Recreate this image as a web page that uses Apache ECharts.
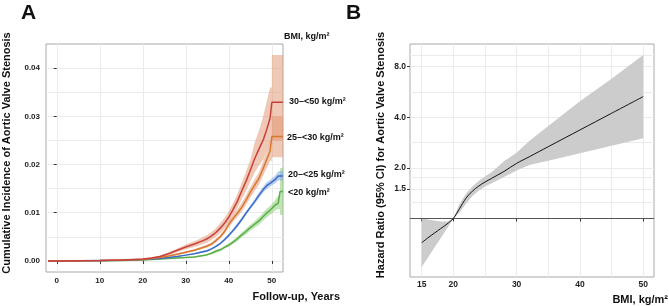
<!DOCTYPE html>
<html>
<head>
<meta charset="utf-8">
<script src="https://cdn.jsdelivr.net/npm/echarts@6/dist/echarts.min.js"></script>
<style>
html, body { margin: 0; background: #fff; }
#chart { width: 669px; height: 306px; }
</style>
</head>
<body>
<div id="chart"></div>
<script>
// panel A: cumulative incidence by BMI group (curves + 95% CI)
// repeated x (50, 51.9) = the visible jumps at the end of follow-up
const years = [-2, 0, 5, 10, 15, 20, 22, 24, 26, 28, 30, 32, 34, 35, 36, 37, 38, 39, 40, 41, 42, 43, 44, 45, 46, 47, 48, 48.8, 49.6, 50, 50, 50.8, 51.5, 51.9, 51.9, 52.6]

const red = [0, 0, 0.00005, 0.0001, 0.0002, 0.0004, 0.0006, 0.0009, 0.0015, 0.0022, 0.0029, 0.0035, 0.0042, 0.0046, 0.0052, 0.0059, 0.0068, 0.0078, 0.0091, 0.0107, 0.0124, 0.0145, 0.0165, 0.0188, 0.0212, 0.0232, 0.0251, 0.0272, 0.0296, 0.0298, 0.0329, 0.0329, 0.0329, 0.0329, 0.0329, 0.0329]
const redLo = [0, 0, 0.00003, 0.00007, 0.00015, 0.0003, 0.0005, 0.0007, 0.0012, 0.0018, 0.0024, 0.0029, 0.0035, 0.0038, 0.0044, 0.005, 0.0058, 0.0067, 0.008, 0.0094, 0.011, 0.0128, 0.0145, 0.0165, 0.0183, 0.0198, 0.021, 0.0228, 0.0245, 0.0245, 0.025, 0.025, 0.025, 0.025, 0.025, 0.025]
const redHi = [0, 0, 0.00007, 0.00013, 0.00025, 0.0005, 0.0007, 0.0011, 0.0018, 0.0026, 0.0034, 0.0041, 0.0049, 0.0054, 0.006, 0.0068, 0.0078, 0.0089, 0.0103, 0.012, 0.0139, 0.0162, 0.0185, 0.021, 0.0245, 0.027, 0.030, 0.033, 0.036, 0.036, 0.0427, 0.0427, 0.0427, 0.0427, 0.0427, 0.0427]

const orange = [0, 0, 0.00004, 0.0001, 0.0002, 0.0003, 0.0005, 0.0007, 0.001, 0.0014, 0.0018, 0.0022, 0.0028, 0.0031, 0.0035, 0.0042, 0.005, 0.0061, 0.0076, 0.0088, 0.0099, 0.0111, 0.0126, 0.0142, 0.0157, 0.0171, 0.0192, 0.021, 0.0228, 0.023, 0.0258, 0.0258, 0.0258, 0.0258, 0.0258, 0.0258]
const orangeLo = [0, 0, 0.00003, 0.00008, 0.00017, 0.00026, 0.00044, 0.00062, 0.0009, 0.0012, 0.0016, 0.002, 0.0025, 0.0028, 0.0032, 0.0038, 0.0046, 0.0056, 0.007, 0.0081, 0.0091, 0.0102, 0.0116, 0.0131, 0.0145, 0.0158, 0.0177, 0.0192, 0.0208, 0.0208, 0.0215, 0.0215, 0.0215, 0.0215, 0.0215, 0.0215]
const orangeHi = [0, 0, 0.00005, 0.00012, 0.00023, 0.00034, 0.00056, 0.00078, 0.0011, 0.0016, 0.002, 0.0024, 0.0031, 0.0034, 0.0038, 0.0046, 0.0054, 0.0066, 0.0082, 0.0095, 0.0107, 0.012, 0.0136, 0.0153, 0.0169, 0.0184, 0.0207, 0.0228, 0.0248, 0.0248, 0.030, 0.030, 0.030, 0.030, 0.030, 0.030]

const blue = [0, 0, 0.00003, 0.00008, 0.00015, 0.0003, 0.0004, 0.0005, 0.0007, 0.0009, 0.0012, 0.0015, 0.0019, 0.0021, 0.0025, 0.003, 0.0036, 0.0044, 0.0053, 0.0063, 0.0074, 0.0086, 0.0099, 0.0111, 0.0123, 0.0136, 0.0148, 0.0156, 0.0161, 0.0164, 0.0164, 0.0169, 0.0176, 0.0176, 0.0176, 0.0176]
const blueLo = [0, 0, 0.00002, 0.00006, 0.00012, 0.00025, 0.00034, 0.00043, 0.0006, 0.0008, 0.0011, 0.0014, 0.0017, 0.0019, 0.0023, 0.0028, 0.0034, 0.0041, 0.005, 0.006, 0.007, 0.0082, 0.0095, 0.0107, 0.0118, 0.013, 0.0142, 0.0149, 0.0154, 0.0157, 0.0157, 0.0161, 0.0167, 0.0167, 0.0167, 0.0167]
const blueHi = [0, 0, 0.00004, 0.0001, 0.00018, 0.00035, 0.00046, 0.00057, 0.0008, 0.001, 0.0013, 0.0016, 0.0021, 0.0023, 0.0027, 0.0032, 0.0038, 0.0047, 0.0056, 0.0066, 0.0078, 0.009, 0.0103, 0.0115, 0.0128, 0.0142, 0.0154, 0.0163, 0.0168, 0.0171, 0.0171, 0.0177, 0.0186, 0.0186, 0.0186, 0.0186]

const green = [0, 0, 0.00002, 0.00005, 0.0001, 0.0002, 0.0003, 0.0004, 0.0005, 0.0006, 0.0007, 0.0008, 0.0011, 0.0013, 0.0016, 0.002, 0.0023, 0.0028, 0.0033, 0.0039, 0.0046, 0.0054, 0.0061, 0.0069, 0.0076, 0.0083, 0.0092, 0.0099, 0.0105, 0.0108, 0.0108, 0.0116, 0.012, 0.012, 0.0144, 0.0144]
const greenLo = [0, 0, 0.00001, 0.00003, 0.00007, 0.00015, 0.00023, 0.00032, 0.0004, 0.0005, 0.0006, 0.0007, 0.0009, 0.0011, 0.0014, 0.0017, 0.002, 0.0025, 0.003, 0.0035, 0.0041, 0.0049, 0.0055, 0.0063, 0.0069, 0.0075, 0.0084, 0.009, 0.0096, 0.0098, 0.0098, 0.0105, 0.0107, 0.0107, 0.0095, 0.0095]
const greenHi = [0, 0, 0.00003, 0.00007, 0.00013, 0.00025, 0.00037, 0.00048, 0.0006, 0.0007, 0.0008, 0.0009, 0.0013, 0.0015, 0.0018, 0.0023, 0.0026, 0.0031, 0.0036, 0.0043, 0.0051, 0.0059, 0.0067, 0.0075, 0.0083, 0.0091, 0.01, 0.0108, 0.0114, 0.0118, 0.0118, 0.0127, 0.0135, 0.0135, 0.0193, 0.0193]

const aXTicks = [0, 10, 20, 30, 40, 50]
const aYTicks = [0, 0.01, 0.02, 0.03, 0.04]
const aYGrid = [0, 0.005, 0.01, 0.015, 0.02, 0.025, 0.03, 0.035, 0.04]

// panel B: spline hazard ratio vs BMI (reference 20)
const bmi = [15, 16, 17, 18, 19, 20, 21, 22, 23, 24, 25, 26, 28, 30, 32, 35, 40, 45, 50]
const hr = [0.717, 0.768, 0.818, 0.871, 0.927, 1.0, 1.149, 1.32, 1.454, 1.558, 1.647, 1.729, 1.905, 2.129, 2.33, 2.676, 3.364, 4.228, 5.315]
const hrLo = [0.514, 0.586, 0.669, 0.763, 0.871, 1.0, 1.087, 1.223, 1.357, 1.464, 1.548, 1.613, 1.765, 1.932, 2.078, 2.209, 2.445, 2.707, 2.998]
const hrHi = [1.007, 0.986, 0.973, 0.959, 0.959, 1.0, 1.223, 1.404, 1.548, 1.67, 1.778, 1.879, 2.19, 2.462, 2.888, 3.555, 4.993, 6.774, 9.38]

const bXTicks = [15, 20, 30, 40, 50]
const bXGrid = [15, 20, 25, 30, 35, 40, 45, 50]
const bYTicks = [1.5, 2, 4, 8]
const bYGrid = [1.25, 1.5, 1.75, 2, 2.83, 4, 5.66, 8, 9.4]

const FONT = '"Liberation Sans", Arial, sans-serif'
const gridColor = '#ebebeb'

const pairs = (xs, ys) => xs.map((x, i) => [x, ys[i]])

// one polygon per band, built from the data through api.coord
function bandSeries (xs, lo, hi, color, xi, yi) {
  return {
    type: 'custom', xAxisIndex: xi, yAxisIndex: yi, clip: true, silent: true, z: 2,
    data: xs.map((x, i) => [x, lo[i], hi[i]]),
    encode: { x: 0, y: [1, 2] },
    renderItem (params, api) {
      if (params.dataIndex !== 0) return null
      const top = xs.map((x, i) => api.coord([x, hi[i]]))
      const bot = xs.map((x, i) => api.coord([x, lo[i]]))
      return {
        type: 'polygon',
        shape: { points: top.concat(bot.reverse()) },
        style: { fill: color }
      }
    }
  }
}

function ciLine (mid, color) {
  return {
    type: 'line', xAxisIndex: 0, yAxisIndex: 0, z: 5,
    data: pairs(years, mid), showSymbol: false,
    lineStyle: { color: color, width: 1.5 }, silent: true
  }
}

const chart = echarts.init(document.getElementById('chart'))

const lg = bYGrid.map(Math.log2)
const axisTxt = { color: '#222', fontWeight: 'bold', fontFamily: FONT }

chart.setOption({
  animation: false,
  backgroundColor: '#fff',
  grid: [
    { left: 46, top: 44, width: 237, height: 228, show: true, borderColor: '#a8a8a8', borderWidth: 1, backgroundColor: 'transparent' },
    { left: 410, top: 44, width: 244, height: 233, show: true, borderColor: '#a8a8a8', borderWidth: 1, backgroundColor: 'transparent' }
  ],
  xAxis: [
    {
      type: 'value', gridIndex: 0, min: -2.5, max: 52.6,
      axisLine: { show: false },
      axisTick: { show: true, length: 3, customValues: aXTicks, lineStyle: { color: '#333' } },
      axisLabel: { customValues: aXTicks, margin: 5, fontSize: 8, ...axisTxt },
      splitLine: { show: true, lineStyle: { color: gridColor } }
    },
    {
      type: 'value', gridIndex: 1, min: 13.16, max: 51.7,
      axisLine: { show: false },
      axisTick: { show: true, length: 3, customValues: bXTicks, lineStyle: { color: '#333' } },
      axisLabel: { customValues: bXTicks, margin: 3.5, fontSize: 8.5, ...axisTxt },
      splitLine: { show: false }
    },
    {
      type: 'value', gridIndex: 1, min: 13.16, max: 51.7,
      axisLine: { show: false },
      axisTick: { show: false, customValues: bXGrid },
      axisLabel: { show: false },
      splitLine: { show: true, lineStyle: { color: gridColor } }
    }
  ],
  yAxis: [
    {
      type: 'value', gridIndex: 0, min: -0.0023, max: 0.045,
      axisLine: { show: false },
      axisTick: { show: true, length: 3, customValues: aYTicks, lineStyle: { color: '#333' } },
      axisLabel: { customValues: aYTicks, margin: 6, fontSize: 8, formatter: v => v.toFixed(2), ...axisTxt },
      splitLine: { show: false }
    },
    {
      type: 'value', gridIndex: 0, min: -0.0023, max: 0.045,
      axisLine: { show: false },
      axisTick: { show: false, customValues: aYGrid },
      axisLabel: { show: false },
      splitLine: { show: true, lineStyle: { color: gridColor } }
    },
    {
      type: 'value', gridIndex: 1, min: -1.156, max: 3.449,
      axisLine: { show: false },
      axisTick: { show: true, length: 3, customValues: bYTicks.map(Math.log2), lineStyle: { color: '#333' } },
      axisLabel: { customValues: bYTicks.map(Math.log2), margin: 4, fontSize: 8.5, formatter: v => Math.pow(2, v).toFixed(1), ...axisTxt },
      splitLine: { show: false }
    },
    {
      type: 'value', gridIndex: 1, min: -1.156, max: 3.449,
      axisLine: { show: false },
      axisTick: { show: false, customValues: lg },
      axisLabel: { show: false },
      splitLine: { show: true, lineStyle: { color: gridColor } }
    }
  ],
  series: [
    bandSeries(years, greenLo, greenHi, 'rgba(140,205,120,0.55)', 0, 0),
    bandSeries(years, blueLo, blueHi, 'rgba(130,165,230,0.55)', 0, 0),
    bandSeries(years, orangeLo, orangeHi, 'rgba(225,145,110,0.5)', 0, 0),
    bandSeries(years, redLo, redHi, 'rgba(225,145,110,0.5)', 0, 0),
    ciLine(green, '#5aae47'),
    ciLine(blue, '#3a6cc6'),
    ciLine(orange, '#d8782f'),
    ciLine(red, '#c93f3a'),
    bandSeries(bmi, hrLo.map(Math.log2), hrHi.map(Math.log2), '#cccccc', 1, 2),
    {
      type: 'line', xAxisIndex: 1, yAxisIndex: 2, z: 5,
      data: pairs(bmi, hr.map(Math.log2)), showSymbol: false, smooth: 0.3,
      lineStyle: { color: '#111', width: 1 }, silent: true,
      markLine: {
        silent: true, symbol: 'none', label: { show: false },
        lineStyle: { color: '#555', width: 1, type: 'solid' },
        data: [{ yAxis: 0 }]
      }
    }
  ],
  graphic: [
    { type: 'text', style: { text: 'A', x: 21, y: 13, font: 'bold 21px ' + FONT, fill: '#111', verticalAlign: 'middle' } },
    { type: 'text', style: { text: 'B', x: 346, y: 13, font: 'bold 21px ' + FONT, fill: '#111', verticalAlign: 'middle' } },
    { type: 'text', rotation: Math.PI / 2, x: 7, y: 153, style: { text: 'Cumulative Incidence of Aortic Valve Stenosis', font: 'bold 11px ' + FONT, fill: '#111', align: 'center', verticalAlign: 'middle' } },
    { type: 'text', rotation: Math.PI / 2, x: 381, y: 155, style: { text: 'Hazard Ratio (95% CI) for Aortic Valve Stenosis', font: 'bold 11px ' + FONT, fill: '#111', align: 'center', verticalAlign: 'middle' } },
    { type: 'text', style: { text: 'Follow-up, Years', x: 340, y: 297, font: 'bold 11px ' + FONT, fill: '#111', align: 'right', verticalAlign: 'middle' } },
    { type: 'text', style: { text: 'BMI, kg/m²', x: 668, y: 300, font: 'bold 11px ' + FONT, fill: '#111', align: 'right', verticalAlign: 'middle' } },
    { type: 'text', style: { text: 'BMI, kg/m²', x: 284, y: 37, font: 'bold 9px ' + FONT, fill: '#111', verticalAlign: 'middle' } },
    { type: 'text', style: { text: '30–<50 kg/m²', x: 289, y: 101.5, font: 'bold 9px ' + FONT, fill: '#111', verticalAlign: 'middle' } },
    { type: 'text', style: { text: '25–<30 kg/m²', x: 287, y: 137.5, font: 'bold 9px ' + FONT, fill: '#111', verticalAlign: 'middle' } },
    { type: 'text', style: { text: '20–<25 kg/m²', x: 288, y: 175, font: 'bold 9px ' + FONT, fill: '#111', verticalAlign: 'middle' } },
    { type: 'text', style: { text: '<20 kg/m²', x: 288, y: 192.5, font: 'bold 9px ' + FONT, fill: '#111', verticalAlign: 'middle' } }
  ]
})
</script>
</body>
</html>
